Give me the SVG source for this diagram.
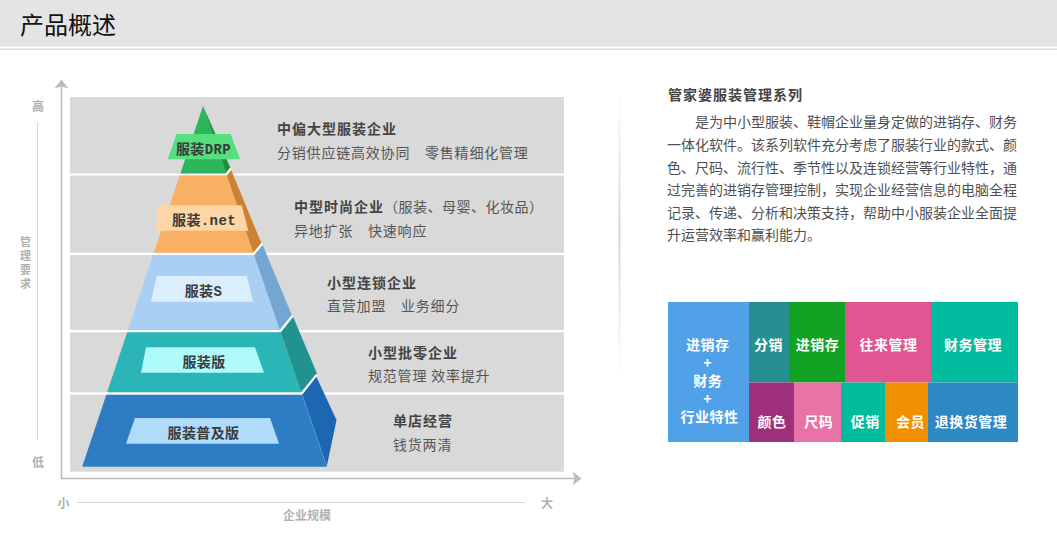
<svg xmlns="http://www.w3.org/2000/svg" width="1057" height="544" viewBox="0 0 1057 544">
<style>
  .cjk{font-family:'Noto Sans CJK SC','Noto Sans',sans-serif}
  .panel{fill:#d9d9d9}
  .sep{stroke:#ffffff;stroke-width:2.2;fill:none}
  .lbl{font-family:'Liberation Mono','Noto Sans CJK SC',monospace;font-size:14px;font-weight:700;fill:#3a3a3a;text-anchor:middle;letter-spacing:0.4px}
  .ttl{font-family:'Noto Sans CJK SC','Noto Sans',sans-serif;font-size:14px;font-weight:700;fill:#444;letter-spacing:1px}
  .body{font-family:'Noto Sans CJK SC','Noto Sans',sans-serif;font-size:14px;fill:#555;letter-spacing:0.8px}
  .axl{font-family:'Noto Sans CJK SC','Noto Sans',sans-serif;font-size:12px;font-weight:700;fill:#b0b0b0;text-anchor:middle}
  .axv{font-family:'Noto Sans CJK SC','Noto Sans',sans-serif;font-size:11px;font-weight:700;fill:#b0b0b0;text-anchor:middle}
  .para{font-family:'Noto Sans CJK SC','Noto Sans',sans-serif;font-size:14px;fill:#505050}
  .tile{font-family:'Noto Sans CJK SC','Noto Sans',sans-serif;font-size:14px;font-weight:700;fill:#ffffff;text-anchor:middle;letter-spacing:0.5px}
</style>
<defs>
  <marker id="axisArrow" viewBox="0 0 9 14" refX="8.5" refY="7" markerWidth="9" markerHeight="14" markerUnits="userSpaceOnUse" orient="auto">
    <path d="M0,0 L9,7 L0,14 L2,7 Z" fill="#bdbdbd"/>
  </marker>
  <linearGradient id="vsep" x1="0" y1="0" x2="0" y2="1">
    <stop offset="0" stop-color="#ffffff"/>
    <stop offset="0.5" stop-color="#d4d4d4"/>
    <stop offset="1" stop-color="#ffffff"/>
  </linearGradient>
</defs>
<rect x="0" y="0" width="1057" height="544" fill="#ffffff"/>

<g id="header">
  <rect x="0" y="0" width="1057" height="46.5" fill="#e4e4e4"/>
  <rect x="0" y="48.5" width="1057" height="1.5" fill="#dcdcdc"/>
  <text x="20" y="34" class="cjk" font-size="24" fill="#111">产品概述</text>
</g>

<g id="axis-labels">
  <text x="38" y="110.5" class="axl">高</text>
  <line x1="37.5" y1="122" x2="37.5" y2="440" stroke="#d6d6d6" stroke-width="1"/>
  <text class="axv"><tspan x="25.5" y="245.5">管</tspan><tspan x="25.5" y="259.5">理</tspan><tspan x="25.5" y="273.5">要</tspan><tspan x="25.5" y="287.5">求</tspan></text>
  <text x="38" y="466.5" class="axl">低</text>
  <text x="63.5" y="507.5" class="axl">小</text>
  <line x1="77" y1="502.5" x2="525" y2="502.5" stroke="#d6d6d6" stroke-width="1"/>
  <text x="547" y="507.5" class="axl">大</text>
  <text x="307" y="519.5" class="axl">企业规模</text>
</g>

<g id="band1">
  <rect class="panel" x="70" y="97" width="494" height="76.5"/>
  <polygon points="203,106 180.4,173.5 226.2,173.5" fill="#2db659"/>
  <polygon points="203,106 230.5,168 226.2,173.5" fill="#1d8f3e"/>
  <polygon points="176.7,134 230.7,134 240,159.3 167.7,159.3" fill="#55df7f"/>
  <text x="203.5" y="154" class="lbl">服装DRP</text>
  <text x="277" y="134" class="ttl">中偏大型服装企业</text>
  <text x="277" y="158" class="body">分销供应链高效协同　零售精细化管理</text>
</g>

<g id="band2">
  <rect class="panel" x="70" y="175.5" width="494" height="77.2"/>
  <polygon points="179.7,175.5 226.8,175.5 253.3,252.7 153.9,252.7" fill="#f9b062"/>
  <polygon points="226.8,175.5 231,169.5 261.5,243.5 253.3,252.7" fill="#cc8232"/>
  <line class="sep" x1="226" y1="174.8" x2="230.8" y2="168.5"/>
  <polygon points="158.3,205.3 241.7,205.3 248.3,230.7 156,230.7" fill="#fed5a4"/>
  <text x="204" y="225" class="lbl">服装.net</text>
  <text x="294" y="211.5" class="ttl">中型时尚企业<tspan style="font-weight:400;fill:#555;letter-spacing:0.5px">（服装、母婴、化妆品）</tspan></text>
  <text x="294" y="235.5" class="body">异地扩张　快速响应</text>
</g>

<g id="band3">
  <rect class="panel" x="70" y="255" width="494" height="75"/>
  <polygon points="153.1,255 254.1,255 279.8,330 128,330" fill="#a9cff3"/>
  <polygon points="254.1,255 262.5,244.5 292,315.5 279.8,330" fill="#74a6d4"/>
  <line class="sep" x1="253.6" y1="254" x2="262.3" y2="243.6"/>
  <polygon points="156.7,276 246.7,276 253.3,301.7 151,301.7" fill="#dbeefe"/>
  <text x="203.5" y="296" class="lbl">服装S</text>
  <text x="327" y="288" class="ttl">小型连锁企业</text>
  <text x="327" y="311" class="body">直营加盟　业务细分</text>
</g>

<g id="band4">
  <rect class="panel" x="70" y="332.3" width="494" height="60"/>
  <polygon points="127.2,332.3 280.6,332.3 301.2,392.3 107.1,392.3" fill="#2bb5b6"/>
  <polygon points="280.6,332.3 293,316.5 317,373.5 301.2,392.3" fill="#229291"/>
  <line class="sep" x1="280.2" y1="331.3" x2="292.6" y2="315.8"/>
  <polygon points="146,347.3 255,347.3 264,372.7 141,372.7" fill="#affbfa"/>
  <text x="204" y="367" class="lbl">服装版</text>
  <text x="368" y="358" class="ttl">小型批零企业</text>
  <text x="368" y="381" class="body">规范管理 效率提升</text>
</g>

<g id="band5">
  <rect class="panel" x="70" y="394.7" width="494" height="77"/>
  <polygon points="106.3,394.7 302,394.7 326.7,466.7 82.2,466.7" fill="#2e7dc2"/>
  <polygon points="302,394.7 316,376 336.5,420 326.7,466.7" fill="#1b67b2"/>
  <line x1="302.5" y1="396" x2="326.7" y2="466" stroke="#6aa5dc" stroke-width="0.8" opacity="0.7"/>
  <line class="sep" x1="301.6" y1="393.6" x2="316.8" y2="374.6"/>
  <polygon points="135,418 270,418 279,443.7 126,443.7" fill="#b0dbfb"/>
  <text x="203.5" y="438" class="lbl">服装普及版</text>
  <text x="393" y="426" class="ttl">单店经营</text>
  <text x="393" y="449.5" class="body">钱货两清</text>
</g>

<g id="connectors">
  <line x1="61.5" y1="478.5" x2="61.5" y2="80" stroke="#bdbdbd" stroke-width="1.6" marker-end="url(#axisArrow)"/>
  <line x1="60.7" y1="478.5" x2="581" y2="478.5" stroke="#bdbdbd" stroke-width="1.6" marker-end="url(#axisArrow)"/>
</g>

<g id="divider">
  <rect x="618.5" y="90" width="2" height="286" fill="url(#vsep)"/>
</g>

<g id="intro">
  <text x="668" y="100" class="ttl">管家婆服装管理系列</text>
  <text class="para">
    <tspan x="695" y="127">是为中小型服装、鞋帽企业量身定做的进销存、财务</tspan>
    <tspan x="667" y="150">一体化软件。该系列软件充分考虑了服装行业的款式、颜</tspan>
    <tspan x="667" y="172.5">色、尺码、流行性、季节性以及连锁经营等行业特性，通</tspan>
    <tspan x="667" y="195">过完善的进销存管理控制，实现企业经营信息的电脑全程</tspan>
    <tspan x="667" y="217.5">记录、传递、分析和决策支持，帮助中小服装企业全面提</tspan>
    <tspan x="667" y="240">升运营效率和赢利能力。</tspan>
  </text>
</g>

<g id="tile-main">
  <rect x="668" y="302" width="81" height="140" fill="#50a1e7"/>
  <text class="tile">
    <tspan x="709.5" y="350">进销存</tspan>
    <tspan x="709.5" y="368">+</tspan>
    <tspan x="709.5" y="386">财务</tspan>
    <tspan x="709.5" y="404">+</tspan>
    <tspan x="709.5" y="422">行业特性</tspan>
  </text>
</g>
<g id="tile-fenxiao">
  <rect x="749" y="302" width="40" height="80.5" fill="#278f92"/>
  <text x="768.5" y="350" class="tile">分销</text>
</g>
<g id="tile-jxc">
  <rect x="789" y="302" width="56" height="80.5" fill="#12a325"/>
  <text x="817.5" y="350" class="tile">进销存</text>
</g>
<g id="tile-wanglai">
  <rect x="845" y="302" width="86" height="80.5" fill="#e05592"/>
  <text x="888.5" y="350" class="tile">往来管理</text>
</g>
<g id="tile-caiwu">
  <rect x="931" y="302" width="87" height="80.5" fill="#01bc9f"/>
  <text x="973" y="350" class="tile">财务管理</text>
</g>
<g id="tile-yanse">
  <rect x="749" y="382.5" width="45" height="59.5" fill="#9e2f7b"/>
  <text x="772" y="427" class="tile">颜色</text>
</g>
<g id="tile-chima">
  <rect x="794" y="382.5" width="47" height="59.5" fill="#e873a6"/>
  <text x="818.7" y="427" class="tile">尺码</text>
</g>
<g id="tile-cuxiao">
  <rect x="841" y="382.5" width="44" height="59.5" fill="#00bb9c"/>
  <text x="865.3" y="427" class="tile">促销</text>
</g>
<g id="tile-huiyuan">
  <rect x="885" y="382.5" width="43" height="59.5" fill="#f19000"/>
  <text x="910.5" y="427" class="tile">会员</text>
</g>
<g id="tile-tuihuan">
  <rect x="928" y="382.5" width="90" height="59.5" fill="#2e88c3"/>
  <text x="971" y="427" class="tile">退换货管理</text>
</g>
</svg>
